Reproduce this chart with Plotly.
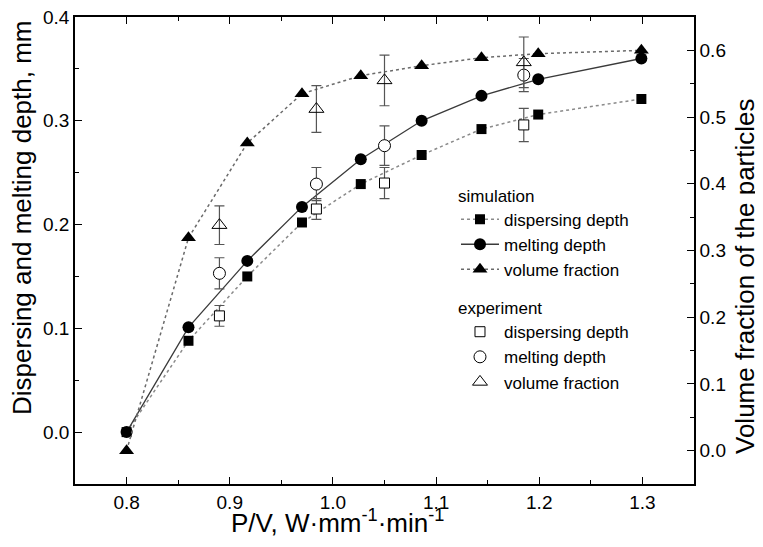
import plotly.graph_objects as go

# ---- data ----
x_sim = [0.80, 0.86, 0.917, 0.970, 1.027, 1.086, 1.144, 1.199, 1.299]
disp_sim = [0.000, 0.088, 0.150, 0.202, 0.239, 0.267, 0.292, 0.306, 0.321]
melt_sim = [0.000, 0.101, 0.165, 0.217, 0.263, 0.300, 0.324, 0.340, 0.360]
vol_sim = [0.000, 0.319, 0.461, 0.535, 0.562, 0.577, 0.589, 0.595, 0.600]

x_exp = [0.890, 0.984, 1.050, 1.185]
disp_exp = [0.112, 0.215, 0.240, 0.296]
disp_err = [0.010, 0.010, 0.015, 0.016]
melt_exp = [0.153, 0.239, 0.276, 0.344]
melt_err = [0.015, 0.016, 0.019, 0.016]
vol_exp = [0.338, 0.512, 0.555, 0.582]
vol_err = [0.029, 0.035, 0.038, 0.038]

x_title = "P/V, W·mm<sup>-1</sup>·min<sup>-1</sup>"
y_title = "Dispersing and melting depth, mm"
y2_title = "Volume fraction of the particles"

FONT = "Liberation Sans, Arial, sans-serif"
ERRC = "#555555"
LEGFONT = 17

# page body has an 8px margin: figure is shrunk so the plot lands where the reference has it
W, H = 755, 539
ML, MR, MT, MB = 67, 69, 9, 63
PW = W - ML - MR
PH = H - MT - MB
OFF = 8


def px_x(px):  # page pixel -> paper x
    return (px - OFF - ML) / PW


def px_y(py):  # page pixel -> paper y
    return (H - MB - (py - OFF)) / PH


fig = go.Figure()

# simulation
fig.add_trace(go.Scatter(
    x=x_sim, y=disp_sim, mode="lines+markers", name="dispersing depth", legend="legend",
    line=dict(color="#8a8a8a", width=1.5, dash="dot"),
    marker=dict(symbol="square", size=10, color="black")))
fig.add_trace(go.Scatter(
    x=x_sim, y=melt_sim, mode="lines+markers", name="melting depth", legend="legend",
    line=dict(color="#3a3a3a", width=1.3),
    marker=dict(symbol="circle", size=12, color="black")))
fig.add_trace(go.Scatter(
    x=x_sim, y=vol_sim, mode="lines+markers", name="volume fraction", legend="legend",
    yaxis="y2",
    line=dict(color="#6a6a6a", width=1.5, dash="3px,3px"),
    marker=dict(symbol="triangle-up", size=13, color="black")))

# experiment
fig.add_trace(go.Scatter(
    x=x_exp, y=disp_exp, mode="markers", name="dispersing depth", legend="legend2",
    error_y=dict(type="data", array=disp_err, color=ERRC, thickness=1.2, width=5),
    marker=dict(symbol="square", size=10, color="white", line=dict(color="black", width=1))))
fig.add_trace(go.Scatter(
    x=x_exp, y=melt_exp, mode="markers", name="melting depth", legend="legend2",
    error_y=dict(type="data", array=melt_err, color=ERRC, thickness=1.2, width=5),
    marker=dict(symbol="circle", size=12, color="white", line=dict(color="black", width=1))))
fig.add_trace(go.Scatter(
    x=x_exp, y=vol_exp, mode="markers", name="volume fraction", legend="legend2",
    yaxis="y2",
    error_y=dict(type="data", array=vol_err, color=ERRC, thickness=1.2, width=5),
    marker=dict(symbol="triangle-up-open", size=13, color="black", line=dict(color="black", width=1))))

axis_common = dict(
    showgrid=False, zeroline=False, showline=True, linecolor="black", linewidth=1.5,
    ticks="inside", ticklen=7, tickwidth=1.3, tickcolor="black", automargin=False,
    ticklabeloverflow="allow",
    tickfont=dict(size=19, color="black", family=FONT), tickformat=".1f",
)
minor = dict(dtick=0.05, ticklen=4, ticks="inside", tickcolor="black", tickwidth=1.3)

leg_common = dict(xanchor="left", yanchor="top", bgcolor="rgba(0,0,0,0)",
                  font=dict(size=LEGFONT, color="black", family=FONT), itemwidth=38)

fig.update_layout(
    width=W, height=H,
    margin=dict(l=ML, r=MR, t=MT, b=MB),
    paper_bgcolor="white", plot_bgcolor="white",
    font=dict(family=FONT, color="black", size=18),
    showlegend=True,
    legend=dict(x=0.6155, y=0.652, title=dict(text="simulation", font=dict(size=LEGFONT)), **leg_common),
    legend2=dict(x=0.6155, y=0.411, title=dict(text="experiment", font=dict(size=LEGFONT)), **leg_common),
    xaxis=dict(range=[0.75, 1.35], dtick=0.1, tick0=0.8, mirror="ticks", minor=minor, **axis_common),
    yaxis=dict(range=[-0.05, 0.4], dtick=0.1, tick0=0, minor=minor, **axis_common),
    yaxis2=dict(range=[-0.05, 0.65], dtick=0.1, tick0=0, overlaying="y", side="right",
                minor=minor, **axis_common),
    annotations=[
        dict(text=x_title, xref="paper", yref="paper", x=px_x(337), y=px_y(521),
             xanchor="center", yanchor="middle", showarrow=False, font=dict(size=26)),
        dict(text=y_title, xref="paper", yref="paper", x=px_x(22), y=px_y(218),
             xanchor="center", yanchor="middle", textangle=-90, showarrow=False, font=dict(size=26)),
        dict(text=y2_title, xref="paper", yref="paper", x=px_x(745), y=px_y(276),
             xanchor="center", yanchor="middle", textangle=-90, showarrow=False, font=dict(size=26)),
    ],
)

fig.write_html("out.html")
